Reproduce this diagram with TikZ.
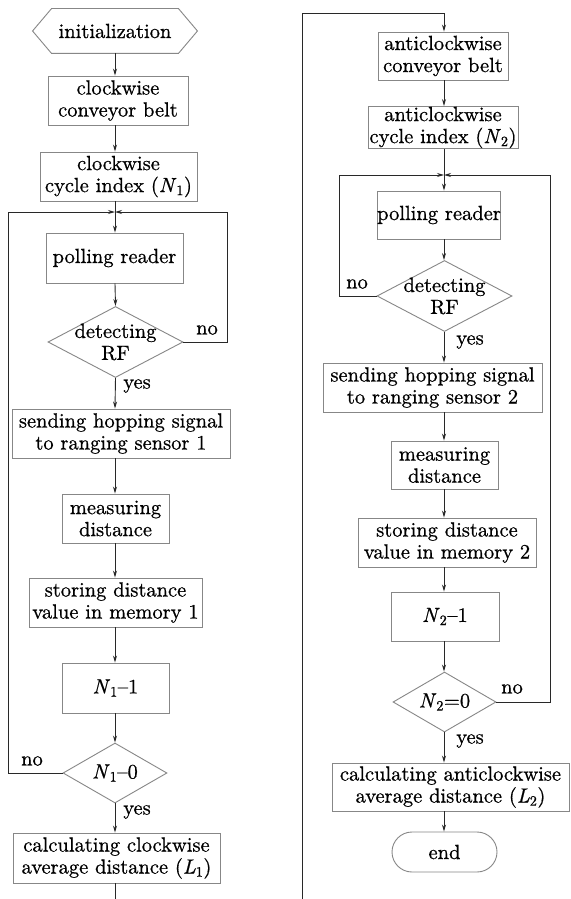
\documentclass[tikz,border=0pt]{standalone}
\usepackage{fontspec}
\setmainfont{lmroman10-regular.otf}[ItalicFont=lmroman10-italic.otf, FakeBold=0.7]
\usetikzlibrary{arrows.meta,shapes.geometric,calc}
\definecolor{boxgray}{RGB}{135,135,135}
\definecolor{linec}{RGB}{40,40,40}
\newcommand\fsz{\fontsize{20.5}{22}\selectfont}
\newcommand\Nv[1]{\textit{N}\textsubscript{#1}}
\newcommand\Lv[1]{\textit{L}\textsubscript{#1}}
\tikzset{
  base/.style={draw=boxgray, line width=0.9pt, inner sep=0pt, align=center, font=\fsz},
  box/.style={base, rectangle},
  dec/.style={base, diamond},
  arr/.style={draw=linec, line width=0.9pt, -{Stealth[length=7pt,width=4pt]}},
  ln/.style={draw=linec, line width=0.9pt},
  lab/.style={font=\fsz, inner sep=0pt}
}
\begin{document}
\begin{tikzpicture}[x=1pt,y=-1pt]
\useasboundingbox[fill=white] (0,0) rectangle (570,899);
% column reference coordinates
\coordinate (L) at (115,0);
\coordinate (R) at (444,0);
% ---------- left column ----------
\node[base, draw=none, minimum width=164pt, minimum height=44pt] (init) at (115,31) {initialization};
\draw[boxgray, line width=0.9pt] (init.west) -- ([xshift=19pt]init.north west) -- ([xshift=-19pt]init.north east) -- (init.east) -- ([xshift=-19pt]init.south east) -- ([xshift=19pt]init.south west) -- cycle;
\node[box, minimum width=140pt, minimum height=49pt] (cwconv) at (118,100.5) {clockwise\\conveyor belt};
\node[box, minimum width=157pt, minimum height=49pt] (cwcyc) at (118.5,176.5) {clockwise\\cycle index (\Nv{1})};
\coordinate (J1) at (115,212);
\node[box, minimum width=137pt, minimum height=50pt] (poll1) at (114.5,258) {polling reader};
\node[dec, minimum width=135pt, minimum height=71pt, label={[lab,align=center]center:detecting\\RF}] (det1) at (115.5,342) {};
\node[box, minimum width=218pt, minimum height=49pt] (send1) at (121,433.5) {sending hopping signal\\to ranging sensor 1};
\node[box, minimum width=107pt, minimum height=49pt] (meas1) at (115.5,518.5) {measuring\\distance};
\node[box, minimum width=173pt, minimum height=49pt] (store1) at (115.5,602.5) {storing distance\\value in memory 1};
\node[box, minimum width=107pt, minimum height=50pt] (dec1) at (115.5,688) {\Nv{1}--1};
\node[dec, minimum width=104pt, minimum height=60pt, label={[lab]center:\Nv{1}--0}] (zero1) at (115,773) {};
\node[box, minimum width=207pt, minimum height=50pt] (calc1) at (116.5,858) {calculating clockwise\\average distance (\Lv{1})};
\coordinate (bot1) at (115,899);

\draw[arr] (init.south -| L) -- (cwconv.north -| L);
\draw[arr] (cwconv.south -| L) -- (cwcyc.north -| L);
\draw[ln] (cwcyc.south -| L) -- (J1);
\draw[arr] (J1) -- (poll1.north -| L);
\draw[arr] (poll1.south -| L) -- (det1.north);
\draw[arr] (det1.south) -- (send1.north -| L);
\draw[arr] (send1.south -| L) -- (meas1.north -| L);
\draw[arr] (meas1.south -| L) -- (store1.north -| L);
\draw[arr] (store1.south -| L) -- (dec1.north -| L);
\draw[arr] (dec1.south -| L) -- (zero1.north);
\draw[arr] (zero1.south) -- (calc1.north -| L);
\draw[ln] (calc1.south -| L) -- (bot1);
% loops
\coordinate (lo1) at (8,773);
\coordinate (ro1) at (227,342);
\draw[arr] (zero1.west) -- (lo1) |- (J1);
\draw[arr] (det1.east) -- (ro1) |- (J1);
\node[lab] at (207,330) {no};
\node[lab] at (137,386) {yes};
\node[lab] at (32,761) {no};
\node[lab] at (137,812) {yes};

% ---------- right column ----------
\coordinate (bot2) at (302,899);
\coordinate (top2) at (302,13);
\node[box, minimum width=130pt, minimum height=48pt] (acwconv) at (443,56) {anticlockwise\\conveyor belt};
\node[box, minimum width=150pt, minimum height=42pt] (acwcyc) at (443,127.5) {anticlockwise\\cycle index (\Nv{2})};
\coordinate (J2) at (444,175);
\node[box, minimum width=122pt, minimum height=48pt] (poll2) at (439,215) {polling reader};
\node[dec, minimum width=135pt, minimum height=71pt, label={[lab,align=center]center:detecting\\RF}] (det2) at (444.5,296) {};
\node[box, minimum width=219pt, minimum height=49pt] (send2) at (432.5,387.5) {sending hopping signal\\to ranging sensor 2};
\node[box, minimum width=107pt, minimum height=48pt] (meas2) at (444.5,465) {measuring\\distance};
\node[box, minimum width=178pt, minimum height=49pt] (store2) at (447,542.5) {storing distance\\value in memory 2};
\node[box, minimum width=108pt, minimum height=49pt] (dec2) at (445,616.5) {\Nv{2}--1};
\node[dec, minimum width=103pt, minimum height=60pt, label={[lab]center:\Nv{2}=0}] (zero2) at (444.5,702) {};
\node[box, minimum width=237pt, minimum height=48pt] (calc2) at (450.5,787) {calculating anticlockwise\\average distance (\Lv{2})};
\node[box, rounded corners=20pt, minimum width=105pt, minimum height=40pt] (endn) at (444.5,852) {end};

\draw[arr] (bot2) -- (top2) -| (acwconv.north -| R);
\draw[arr] (acwconv.south -| R) -- (acwcyc.north -| R);
\draw[ln] (acwcyc.south -| R) -- (J2);
\draw[arr] (J2) -- (poll2.north -| R);
\draw[arr] (poll2.south -| R) -- (det2.north -| R);
\draw[arr] (det2.south -| R) -- (send2.north -| R);
\draw[arr] (send2.south -| R) -- (meas2.north -| R);
\draw[arr] (meas2.south -| R) -- (store2.north -| R);
\draw[arr] (store2.south -| R) -- (dec2.north -| R);
\draw[arr] (dec2.south -| R) -- (zero2.north -| R);
\draw[arr] (zero2.south -| R) -- (calc2.north -| R);
\draw[arr] (calc2.south -| R) -- (endn.north -| R);
% loops
\coordinate (lo2) at (339,296);
\coordinate (ro2) at (550,702);
\draw[arr] (det2.west) -- (lo2) |- (J2);
\draw[arr] (zero2.east) -- (ro2) |- (J2);
\node[lab] at (357,284) {no};
\node[lab] at (470,342) {yes};
\node[lab] at (512,689) {no};
\node[lab] at (470,741) {yes};
\end{tikzpicture}
\end{document}
